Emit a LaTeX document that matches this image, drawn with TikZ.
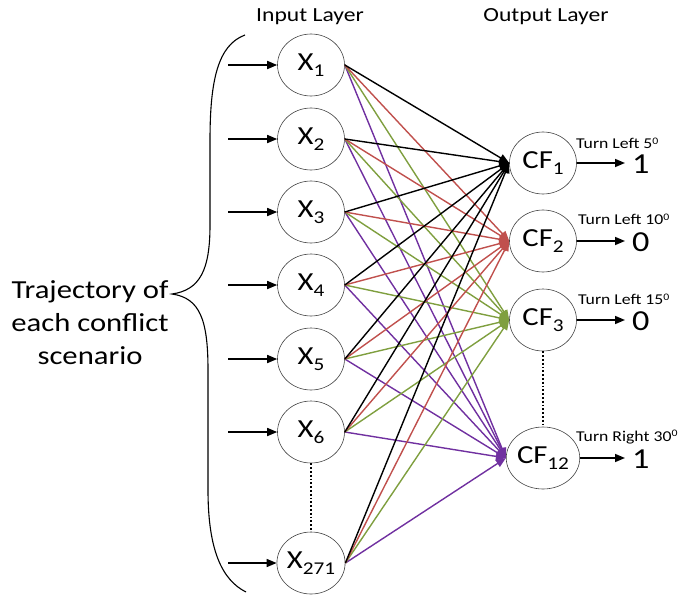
\documentclass[tikz,border=0pt]{standalone}
\usepackage{fontspec}
\setmainfont[FakeStretch=1.18]{Carlito}
\usetikzlibrary{arrows.meta,shapes.geometric}
\definecolor{wred}{HTML}{C0504D}
\definecolor{wgreen}{HTML}{7F9F3F}
\definecolor{wpurple}{HTML}{7030A0}
\newcommand{\lsub}[1]{\raisebox{-0.45ex}{\fontsize{18}{18}\selectfont #1}}
\newcommand{\lsup}[1]{\raisebox{0.6ex}{\fontsize{10}{10}\selectfont #1}}

\begin{document}
\begin{tikzpicture}[x=1pt,y=-1pt,
  neuron/.style={ellipse,draw=black!75,line width=0.6pt,minimum width=67pt,minimum height=62pt,inner sep=0pt,font=\fontsize{26}{26}\selectfont},
  feed/.style={-{Triangle[length=10pt,width=8pt]},line width=1.6pt},
  link/.style={-{Triangle[length=10pt,width=8pt]},line width=1.4pt},
  turn/.style={anchor=west,inner sep=0pt,font=\fontsize{15}{15}\selectfont},
  value/.style={anchor=west,inner xsep=7pt,inner ysep=0pt,font=\fontsize{29}{29}\selectfont},
  title/.style={font=\fontsize{20}{20}\selectfont}]
\useasboundingbox (0,0) rectangle (679,594);

% layer titles
\node[title] (inlab) at (310,17) {Input Layer};
\node[title] (outlab) at (546,17) {Output Layer};

% input layer
\node[neuron] (x1) at (311,65) {X\lsub{1}};
\node[neuron] (x2) at (311,139) {X\lsub{2}};
\node[neuron] (x3) at (311,212) {X\lsub{3}};
\node[neuron] (x4) at (311,285) {X\lsub{4}};
\node[neuron] (x5) at (311,359) {X\lsub{5}};
\node[neuron] (x6) at (311,432) {X\lsub{6}};
\node[neuron] (x271) at (311,563) {X\lsub{271}};
\draw[line width=1.8pt,dotted] (x6) -- (x271);

% output layer
\node[neuron] (cf1) at (543,163) {CF\lsub{1}};
\node[neuron] (cf2) at (543,241) {CF\lsub{2}};
\node[neuron] (cf3) at (543,320) {CF\lsub{3}};
\node[neuron] (cf12) at (543,458) {CF\lsub{12}};
\draw[line width=1.8pt,dotted] (cf3) -- (cf12);

% inputs
\coordinate (in1) at (228,65);
\coordinate (in2) at (228,139);
\coordinate (in3) at (228,212);
\coordinate (in4) at (228,285);
\coordinate (in5) at (228,359);
\coordinate (in6) at (228,432);
\coordinate (in271) at (228,563);
\draw[feed] (in1) -- (x1);
\draw[feed] (in2) -- (x2);
\draw[feed] (in3) -- (x3);
\draw[feed] (in4) -- (x4);
\draw[feed] (in5) -- (x5);
\draw[feed] (in6) -- (x6);
\draw[feed] (in271) -- (x271);

% connections
\draw[link,wpurple] (x1.east) -- (cf12.west);
\draw[link,wpurple] (x2.east) -- (cf12.west);
\draw[link,wpurple] (x3.east) -- (cf12.west);
\draw[link,wpurple] (x4.east) -- (cf12.west);
\draw[link,wpurple] (x5.east) -- (cf12.west);
\draw[link,wpurple] (x6.east) -- (cf12.west);
\draw[link,wpurple] (x271.east) -- (cf12.west);
\draw[link,wgreen] (x1.east) -- (cf3.west);
\draw[link,wgreen] (x2.east) -- (cf3.west);
\draw[link,wgreen] (x3.east) -- (cf3.west);
\draw[link,wgreen] (x4.east) -- (cf3.west);
\draw[link,wgreen] (x5.east) -- (cf3.west);
\draw[link,wgreen] (x6.east) -- (cf3.west);
\draw[link,wgreen] (x271.east) -- (cf3.west);
\draw[link,wred] (x1.east) -- (cf2.west);
\draw[link,wred] (x2.east) -- (cf2.west);
\draw[link,wred] (x3.east) -- (cf2.west);
\draw[link,wred] (x4.east) -- (cf2.west);
\draw[link,wred] (x5.east) -- (cf2.west);
\draw[link,wred] (x6.east) -- (cf2.west);
\draw[link,wred] (x271.east) -- (cf2.west);
\draw[link] (x1.east) -- (cf1.west);
\draw[link] (x2.east) -- (cf1.west);
\draw[link] (x3.east) -- (cf1.west);
\draw[link] (x4.east) -- (cf1.west);
\draw[link] (x5.east) -- (cf1.west);
\draw[link] (x6.east) -- (cf1.west);
\draw[link] (x271.east) -- (cf1.west);

% outputs
\node[turn] (t1) at (576,143) {Turn Left 5\lsup{0}};
\node[turn] (t2) at (578,219) {Turn Left 10\lsup{0}};
\node[turn] (t3) at (578,299) {Turn Left 15\lsup{0}};
\node[turn] (t12) at (576,437) {Turn Right 30\lsup{0}};
\node[value] (v1) at (625,164) {1};
\node[value] (v2) at (625,242) {0};
\node[value] (v3) at (625,321) {0};
\node[value] (v12) at (625,459) {1};
\draw[feed] (cf1.east) -- (cf1.east -| v1.west);
\draw[feed] (cf2.east) -- (cf2.east -| v2.west);
\draw[feed] (cf3.east) -- (cf3.east -| v3.west);
\draw[feed] (cf12.east) -- (cf12.east -| v12.west);

% brace and its text
\coordinate (btop) at (245,35);
\coordinate (btip) at (172,294);
\coordinate (bbot) at (246,592);
\draw[line width=1.1pt] (btop) .. controls (218,45) and (210,80) .. (210,140)
  -- (210,225) .. controls (210,270) and (200,290) .. (btip)
  .. controls (200,298) and (208,320) .. (208,370)
  -- (208,490) .. controls (208,550) and (222,580) .. (bbot);
\node[align=center,font=\fontsize{26}{33}\selectfont] (traj) at (90,323)
  {Trajectory of\\each conflict\\scenario};
\end{tikzpicture}
\end{document}
